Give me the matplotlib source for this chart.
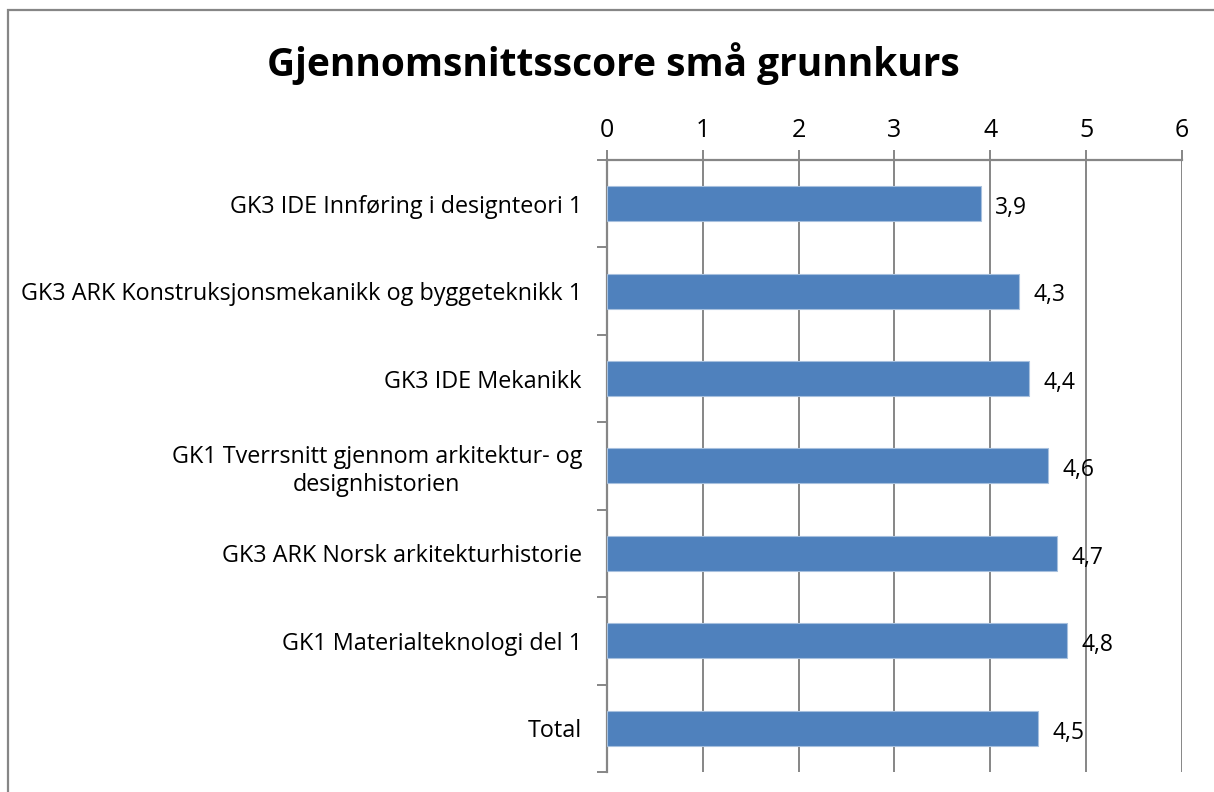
import matplotlib
matplotlib.use("Agg")
import matplotlib.pyplot as plt
from matplotlib.patches import Rectangle

title = "Gjennomsnittsscore små grunnkurs"
categories = [
    "GK3 IDE Innføring i designteori 1",
    "GK3 ARK Konstruksjonsmekanikk og byggeteknikk 1",
    "GK3 IDE Mekanikk",
    "GK1 Tverrsnitt gjennom arkitektur- og\ndesignhistorien",
    "GK3 ARK Norsk arkitekturhistorie",
    "GK1 Materialteknologi del 1",
    "Total",
]
values = [3.9, 4.3, 4.4, 4.6, 4.7, 4.8, 4.5]
xticks = [0, 1, 2, 3, 4, 5, 6]

plt.rcParams['font.family'] = ['Open Sans', 'DejaVu Sans']
gray = '#868686'
bar_color = '#4F81BD'

fig = plt.figure(figsize=(12.14, 7.92), dpi=100)
ax = fig.add_axes([0.5, 0.0253, 0.4736, 0.7727])

n = len(categories)
ypos = list(range(n))
ax.barh(ypos, values, height=0.4, color=bar_color, edgecolor='#A7C0DE', linewidth=0.8, zorder=3)
ax.set_ylim(n - 0.5, -0.5)
ax.set_xlim(0, 6)

ax.set_yticks(ypos)
ax.set_yticklabels(categories, fontsize=16.8, multialignment='center')
ax.tick_params(axis='y', length=0, pad=18)
ax.set_yticks([i - 0.5 for i in range(n + 1)], minor=True)
ax.tick_params(axis='y', which='minor', length=7, color=gray, width=1.4, direction='out')

ax.xaxis.tick_top()
ax.set_xticks(xticks)
ax.set_xticklabels([str(t) for t in xticks], fontsize=18)
ax.tick_params(axis='x', length=7, color=gray, width=1.4, direction='out', pad=5)
ax.grid(axis='x', color=gray, linewidth=1.4, zorder=0)
ax.set_axisbelow(True)

for s in ['right', 'bottom']:
    ax.spines[s].set_visible(False)
for s in ['top', 'left']:
    ax.spines[s].set_color(gray)
    ax.spines[s].set_linewidth(1.6)

for y, v in zip(ypos, values):
    ax.text(v + 0.15, y + 0.05, f"{v:.1f}".replace('.', ','), va='center', ha='left', fontsize=16.5)

fig.text(0.505, 0.92, title, ha='center', va='center', fontsize=28, fontweight='bold')

fig.patches.append(Rectangle((8 / 1214, -0.1), 1.2, 1.1 - 10 / 792, transform=fig.transFigure,
                             fill=False, edgecolor=gray, linewidth=1.6))

fig.savefig("out.png", dpi=100)
